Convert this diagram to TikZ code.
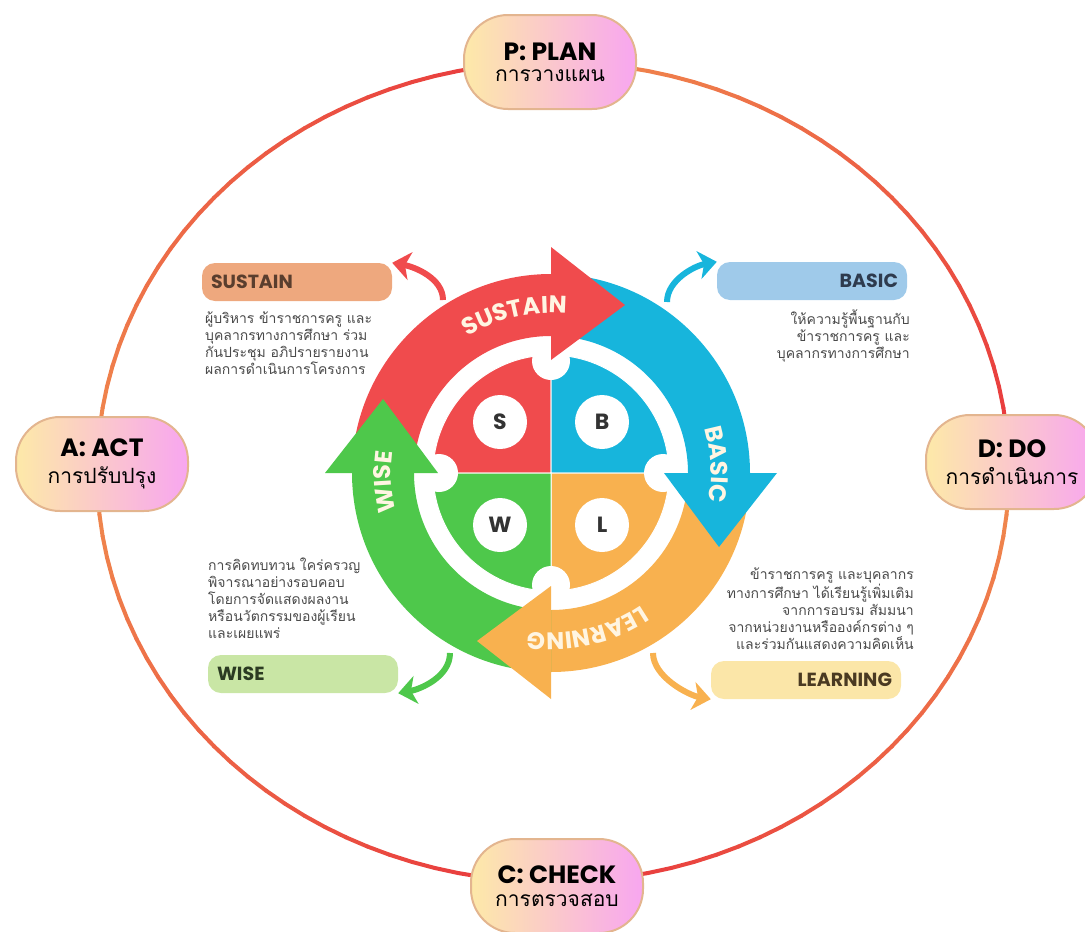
\documentclass[tikz,border=0pt]{standalone}
\usepackage{fontspec}
\setmainfont{Poppins}
\newfontfamily\thaifont[Script=Thai]{Loma}
\usetikzlibrary{arrows.meta,decorations.text}

\definecolor{rimred}{HTML}{E8343C}
\definecolor{rimorange}{HTML}{F08C4E}
\definecolor{pillyellow}{HTML}{FDE9A8}
\definecolor{pillpink}{HTML}{F8A6F0}
\definecolor{pillborder}{HTML}{E3B58F}
\definecolor{sred}{HTML}{F04B4D}
\definecolor{sblue}{HTML}{17B5DC}
\definecolor{sgreen}{HTML}{4EC84B}
\definecolor{sorange}{HTML}{F8B14F}
\definecolor{ringtext}{HTML}{FFF5E2}
\definecolor{boxsustain}{HTML}{EEA87E}
\definecolor{boxbasic}{HTML}{9FCAEA}
\definecolor{boxwise}{HTML}{C9E6A5}
\definecolor{boxlearn}{HTML}{FBE6A8}
\definecolor{desctext}{HTML}{4A4A4A}
\definecolor{tagsustain}{HTML}{5A3E2E}
\definecolor{tagbasic}{HTML}{2E3B4E}
\definecolor{tagwise}{HTML}{2B3B22}
\definecolor{taglearn}{HTML}{4A3A22}

\newcommand{\ringfont}{\fontsize{24}{24}\selectfont\bfseries\color{ringtext}}
\newcommand{\pillhead}{\fontsize{25}{25}\selectfont\bfseries}
\newcommand{\pillthai}{\thaifont\fontsize{21}{24}\selectfont}

\begin{document}
\begin{tikzpicture}[x=1pt,y=1pt,
    pill/.style={rectangle, rounded corners=44pt, minimum width=172pt, minimum height=94pt,
      left color=pillyellow, right color=pillpink, draw=pillborder, line width=2pt,
      align=center, inner sep=0pt},
    tagbox/.style={rectangle, rounded corners=13pt, minimum height=38pt, text width=172pt,
      inner xsep=9pt, inner ysep=0pt, font=\fontsize{19}{19}\selectfont\bfseries},
    desc/.style={inner sep=0pt, text=desctext, font=\thaifont\fontsize{14}{17}\selectfont},
    letter/.style={circle, fill=white, minimum size=54pt, inner sep=0pt,
      font=\fontsize{22}{22}\selectfont\bfseries, text=black!80},
    bend arrow/.style={line width=6pt, -{Stealth[length=18pt,width=28pt,inset=5pt]}}]
    \useasboundingbox (0,0) rectangle (1085,-932);

    % outer PDCA rim
    \begin{scope}[shift={(553,-472)}]
      \foreach \qa/\qb in {180/90, 90/0, 0/-90, 180/270}{
        \foreach \k in {0,...,29}{
          \pgfmathsetmacro{\ta}{\qa+(\qb-\qa)*\k/30}
          \pgfmathsetmacro{\tb}{\qa+(\qb-\qa)*(\k+1)/30}
          \pgfmathtruncatemacro{\mix}{100*(\k+0.5)/30}
          \draw[line width=4pt, line cap=round, draw=rimred!\mix!rimorange]
            (\ta:456 and 410) -- (\tb:456 and 410);
        }
      }
    \end{scope}

    \node[pill] (plan) at (550,-62) {{\pillhead P: PLAN}\\[9pt]{\pillthai การวางแผน}};
    \node[pill] (do) at (1012,-462) {{\pillhead D: DO}\\[9pt]{\pillthai การดำเนินการ}};
    \node[pill] (check) at (557,-886) {{\pillhead C: CHECK}\\[9pt]{\pillthai การตรวจสอบ}};
    \node[pill] (act) at (102,-464) {{\pillhead A: ACT}\\[9pt]{\pillthai การปรับปรุง}};

    % SBWL wheel
    \begin{scope}[shift={(551,-473)}]
      \foreach \a/\col in {90/sred, 0/sblue, -90/sorange, 180/sgreen}
        \fill[\col, draw=white, line width=1pt] (0,0) -- (\a:118) arc[start angle=\a, end angle=\a+90, radius=118] -- cycle;
      \foreach \a in {0,90,180,270}
        \fill[white] (\a:112) circle[radius=19];
      \foreach \a/\col in {180/sred, 90/sblue, 0/sorange, -90/sgreen}
        \fill[\col] (\a:199) arc[start angle=\a, end angle=\a-90, radius=199]
          -- (\a-90:137) arc[start angle=\a-90, end angle=\a, radius=137] -- cycle;
      \foreach \b/\col in {90/sred, 0/sblue, -90/sorange, 180/sgreen}
        \fill[\col] (\b:113) -- (\b:226) -- ([shift={(\b-90:74)}]\b:168) -- cycle;

      \path[decorate, decoration={text along path, text={|\ringfont|SUSTAIN}, text align=center}]
        (163:160) arc[start angle=163, end angle=43, radius=160];
      \path[decorate, decoration={text along path, text={|\ringfont|BASIC}, text align=center}]
        (63:160) arc[start angle=63, end angle=-57, radius=160];
      \path[decorate, decoration={text along path, text={|\ringfont|LEARNING}, text align=center}]
        (-17:160) arc[start angle=-17, end angle=-137, radius=160];
      \path[decorate, decoration={text along path, text={|\ringfont|WISE}, text align=center}]
        (243:160) arc[start angle=243, end angle=123, radius=160];

      \node[letter] (s) at (-51,51) {S};
      \node[letter] (b) at (51,51) {B};
      \node[letter] (w) at (-51,-52) {W};
      \node[letter] (l) at (51,-52) {L};

      \coordinate (sustainfoot) at (-108,173);
      \coordinate (basicfoot) at (116,171);
      \coordinate (wisefoot) at (-101,-180);
      \coordinate (learnfoot) at (102,-180);
    \end{scope}

    % tags and notes
    \node[tagbox, fill=boxsustain, align=left, text=tagsustain] (sustain) at (297,-282) {SUSTAIN};
    \node[tagbox, fill=boxbasic, align=right, text=tagbasic] (basic) at (812,-281) {BASIC};
    \node[tagbox, fill=boxwise, align=left, text=tagwise] (wise) at (303,-674) {WISE};
    \node[tagbox, fill=boxlearn, align=right, text=taglearn] (learning) at (806,-680) {LEARNING};

    \node[desc, anchor=north west, align=left] (sustainnote) at (205,-312)
      {ผู้บริหาร ข้าราชการครู และ\\บุคลากรทางการศึกษา ร่วม\\กันประชุม อภิปรายรายงาน\\ผลการดำเนินการโครงการ};
    \node[desc, anchor=north east, align=right] (basicnote) at (910,-309)
      {ให้ความรู้พื้นฐานกับ\\ข้าราชการครู และ\\บุคลากรทางการศึกษา};
    \node[desc, anchor=north west, align=left] (wisenote) at (208,-558)
      {การคิดทบทวน ใคร่ครวญ\\พิจารณาอย่างรอบคอบ\\โดยการจัดแสดงผลงาน\\หรือนวัตกรรมของผู้เรียน\\และเผยแพร่};
    \node[desc, anchor=north east, align=right] (learningnote) at (914,-568)
      {ข้าราชการครู และบุคลากร\\ทางการศึกษา ได้เรียนรู้เพิ่มเติม\\จากการอบรม สัมมนา\\จากหน่วยงานหรือองค์กรต่าง ๆ\\และร่วมกันแสดงความคิดเห็น};

    % small pointers
    \draw[bend arrow, sred] (sustainfoot) .. controls +(0,22) and +(22,-4) .. (sustain.north east);
    \draw[bend arrow, sblue] (basicfoot) .. controls +(0,22) and +(-22,-4) .. (basic.north west);
    \draw[bend arrow, sgreen] (wisefoot) .. controls +(0,-24) and +(22,4) .. (wise.south east);
    \draw[bend arrow, sorange] (learnfoot) .. controls +(0,-24) and +(-22,4) .. (learning.south west);
\end{tikzpicture}
\end{document}
